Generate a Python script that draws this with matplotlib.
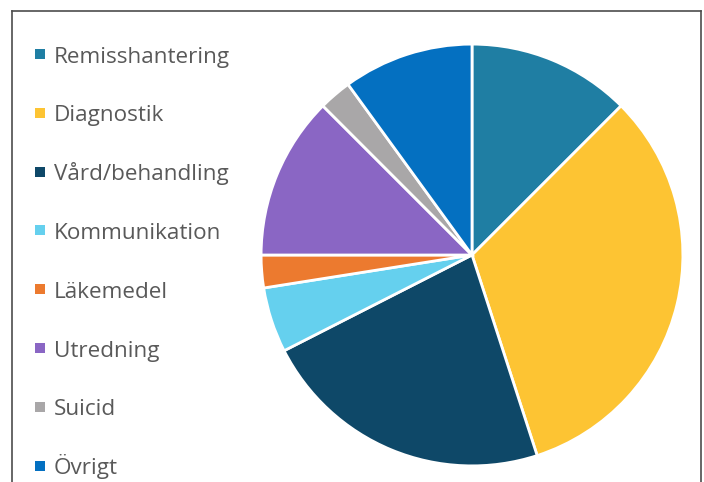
import matplotlib
matplotlib.use("Agg")
import matplotlib.pyplot as plt
from matplotlib.patches import Rectangle
from matplotlib.lines import Line2D

categories = ["Remisshantering", "Diagnostik", "Vård/behandling", "Kommunikation",
              "Läkemedel", "Utredning", "Suicid", "Övrigt"]
counts = [5, 13, 9, 2, 1, 5, 1, 4]
colors = ["#1f7ea3", "#fdc433", "#0e4868", "#65d0ee",
          "#ec7a2f", "#8a66c4", "#a9a7a8", "#0470c1"]

W, H = 704, 482
fig = plt.figure(figsize=(W / 100, H / 100), dpi=100)
fig.patch.set_facecolor("white")

# frame around the chart area (left, top, right)
frame_kw = dict(color="#4d4d4d", linewidth=1.2, transform=fig.transFigure)
x0, x1, y0 = 12 / W, 701 / W, 1 - 11 / H
fig.add_artist(Line2D([x0, x0], [0, y0], **frame_kw))
fig.add_artist(Line2D([x0, x1], [y0, y0], **frame_kw))
fig.add_artist(Line2D([x1, x1], [0, y0], **frame_kw))

# pie
cx, cy, r = 472, 255, 213
ax = fig.add_axes([(cx - r) / W, 1 - (cy + r) / H, 2 * r / W, 2 * r / H])
ax.pie(counts, colors=colors, startangle=90, counterclock=False, radius=1,
       wedgeprops=dict(edgecolor="white", linewidth=2))
ax.set_xlim(-1.01, 1.01)
ax.set_ylim(-1.01, 1.01)
ax.set_aspect("equal")
ax.axis("off")

# legend
base_y, step = 62.5, 58.8
for i, (lab, col) in enumerate(zip(categories, colors)):
    yb = base_y + i * step
    fig.add_artist(Rectangle((35 / W, 1 - (yb - 3.5) / H), 10 / W, 10 / H,
                             transform=fig.transFigure, facecolor=col,
                             edgecolor="none"))
    fig.text(54 / W, 1 - yb / H, lab, fontsize=16.2, family="Open Sans",
             color="#595959", va="baseline", ha="left")

fig.savefig("out.png", dpi=100)
